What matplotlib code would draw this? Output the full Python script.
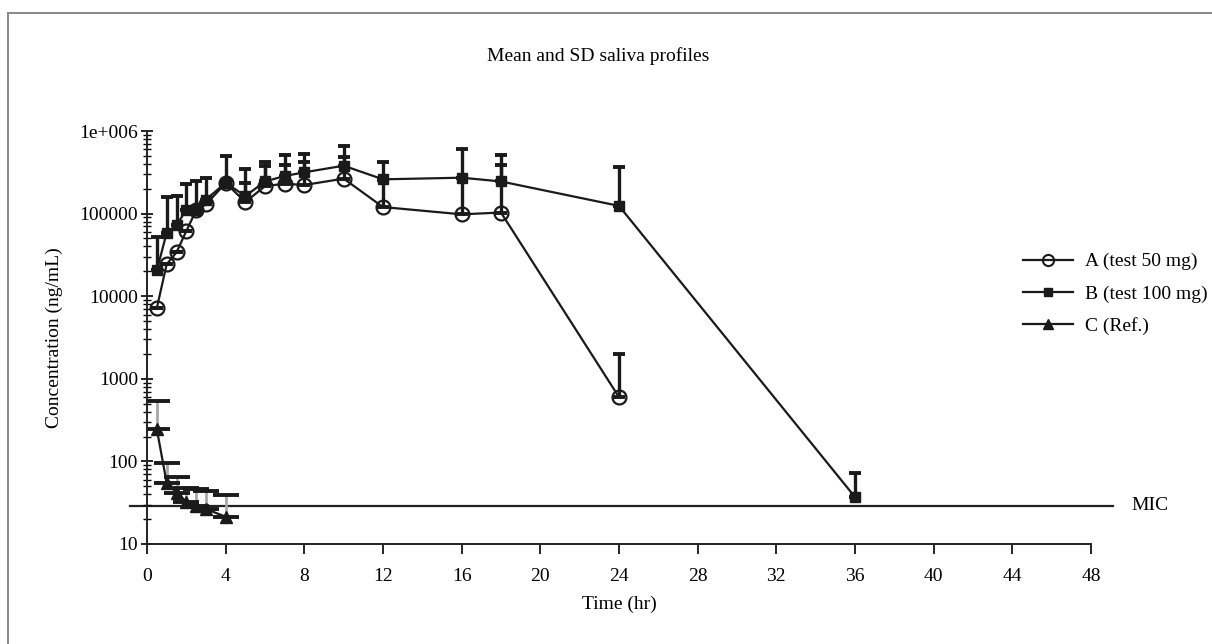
import matplotlib
matplotlib.use('Agg')
import matplotlib.pyplot as plt
from matplotlib.lines import Line2D
import numpy as np

plt.rcParams['font.family'] = ['Liberation Serif', 'DejaVu Serif']

# data (mean and mean+SD)
t_a = [0.5, 1, 1.5, 2, 2.5, 3, 4, 5, 6, 7, 8, 10, 12, 16, 18, 24]
mean_a = [7200, 24300, 34000, 61500, 110000, 129000, 235000, 138000,
          215000, 230000, 222000, 265000, 120000, 98000, 103000, 600]
top_a = [7200, 24300, 34000, 61500, 110000, 129000, 235000, 236000,
         372000, 390000, 417000, 490000, 255000, 270000, 390000, 2000]

t_b = [0.5, 1, 1.5, 2, 2.5, 3, 4, 5, 6, 7, 8, 10, 12, 16, 18, 24, 36]
mean_b = [20500, 58500, 72000, 112000, 112000, 148000, 236000, 163000,
          245000, 285000, 316000, 380000, 260000, 272000, 245000, 124000, 37]
top_b = [51500, 158000, 163000, 230000, 245000, 270000, 500000, 345000,
         417000, 513000, 525000, 660000, 417000, 600000, 513000, 365000, 72]

t_c = [0.5, 1, 1.5, 2, 2.5, 3, 4]
mean_c = [245, 55, 42, 32.5, 29, 26.5, 21.4]
top_c = [535, 95, 65, 48, 46, 44, 39]

mic = 28.5
xticks = list(range(0, 49, 4))
yticks = [10, 100, 1000, 10000, 100000, 1000000]
ytick_labels = ['10', '100', '1000', '10000', '100000', '1e+006']
series_labels = ['A (test 50 mg)', 'B (test 100 mg)', 'C (Ref.)']

fig = plt.figure(figsize=(12.12, 6.44), dpi=100)
ax = fig.add_axes([147 / 1212, 100 / 644, 944 / 1212, 413 / 644])

def upper(mean, top):
    mean = np.array(mean)
    return [np.zeros_like(mean), np.array(top) - mean]

fs = 14
ink = '#1a1a1a'

ax.axhline(mic, xmin=-0.018, xmax=1.023, color='#222222', lw=1.6, clip_on=False, zorder=1)

# C: grey bars, wide black caps
ax.errorbar(t_c, mean_c, yerr=upper(mean_c, top_c), fmt='none', ecolor='#a8a8a8',
            elinewidth=2, capsize=0, zorder=2)
ax.errorbar(t_c, mean_c, yerr=upper(mean_c, top_c), fmt='none', ecolor=ink,
            elinewidth=0, capsize=9.5, capthick=2.8, zorder=2)
ax.plot(t_c, mean_c, color=ink, lw=1.6, marker='^', ms=9, zorder=4)

# A and B
ax.errorbar(t_a, mean_a, yerr=upper(mean_a, top_a), fmt='none', ecolor=ink,
            elinewidth=2.4, capsize=4.5, capthick=2.8, zorder=3)
ax.plot(t_a, mean_a, color=ink, lw=1.6, marker='o', ms=10, mfc='none',
        mew=1.6, zorder=4)
ax.errorbar(t_b, mean_b, yerr=upper(mean_b, top_b), fmt='none', ecolor=ink,
            elinewidth=2.4, capsize=4.5, capthick=2.8, zorder=3)
ax.plot(t_b, mean_b, color=ink, lw=1.6, marker='s', ms=7.5, zorder=5)

ax.set_yscale('log')
ax.set_ylim(10, 1e6)
ax.set_xlim(0, 48)
ax.set_xticks(xticks)
ax.set_xticklabels([str(x) for x in xticks], fontsize=fs)
ax.set_yticks(yticks)
ax.set_yticklabels(ytick_labels, fontsize=fs)
ax.yaxis.set_minor_locator(matplotlib.ticker.LogLocator(base=10, subs=np.arange(2, 10)))
ax.yaxis.set_minor_formatter(matplotlib.ticker.NullFormatter())
ax.tick_params(axis='y', which='major', direction='inout', length=9, width=1.2, pad=2)
ax.tick_params(axis='y', which='minor', direction='inout', length=6, width=1)
ax.tick_params(axis='x', direction='out', length=7, width=1.2, pad=10)
for s in ['top', 'right']:
    ax.spines[s].set_visible(False)
for s in ['left', 'bottom']:
    ax.spines[s].set_linewidth(1.4)
    ax.spines[s].set_color('#222222')

ax.set_xlabel('Time (hr)', fontsize=fs, labelpad=8)
ax.set_ylabel('Concentration (ng/mL)', fontsize=fs, labelpad=12)
fig.text(598 / 1212, 1 - 56 / 644, 'Mean and SD saliva profiles', fontsize=fs,
         ha='center', va='center')
fig.text(1150 / 1212, 1 - 506 / 644, 'MIC', fontsize=fs, ha='center', va='center')

handles = [Line2D([], [], color=ink, lw=1.6, marker='o', ms=8, mfc='none', mew=1.5),
           Line2D([], [], color=ink, lw=1.6, marker='s', ms=6),
           Line2D([], [], color=ink, lw=1.6, marker='^', ms=7)]
fig.legend(handles, series_labels, loc='center left', bbox_to_anchor=(1005 / 1212, 1 - 294 / 644),
           frameon=False, fontsize=fs, handlelength=2.6, labelspacing=0.75, handletextpad=0.6)

# outer frame (top and left edges visible)
fig.add_artist(Line2D([8 / 1212, 1.0], [1 - 13 / 644] * 2, color='#888888', lw=1.4,
                      transform=fig.transFigure))
fig.add_artist(Line2D([8 / 1212] * 2, [0.0, 1 - 13 / 644], color='#888888', lw=1.4,
                      transform=fig.transFigure))

fig.savefig('out.png', dpi=100)
